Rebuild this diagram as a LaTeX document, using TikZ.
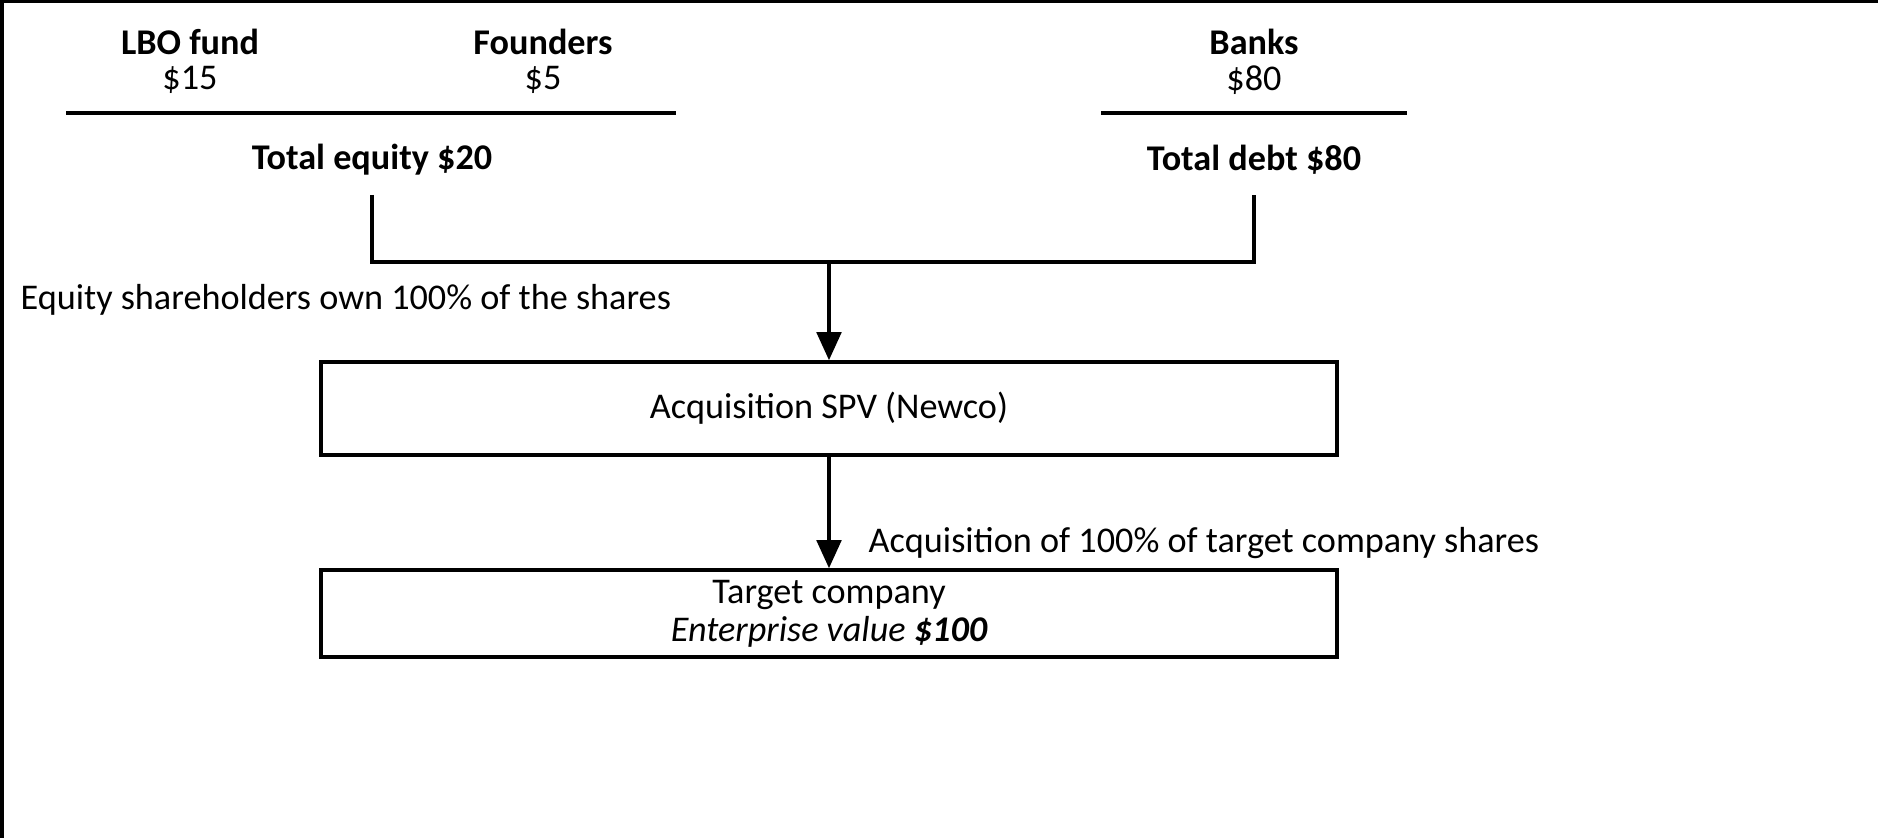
\documentclass[tikz,border=0pt]{standalone}
\usepackage{fontspec}
\setmainfont{Carlito}
\usetikzlibrary{arrows.meta,positioning}
\tikzset{
  lbl/.style={font=\fontsize{10.3}{12}\selectfont, inner sep=0pt},
  bold lbl/.style={lbl, font=\fontsize{10.3}{12}\selectfont\bfseries},
  box/.style={draw, line width=1pt, minimum width=10.16cm, inner sep=0pt},
  flow/.style={-{Triangle[length=8pt,width=7pt]}, line width=1pt},
}
\begin{document}
\begin{tikzpicture}
\useasboundingbox (0,0) rectangle (18.78,8.38);
\fill (0,8.35) rectangle (18.78,8.38);
\fill (0,0) rectangle (0.04,8.38);
% contributors
\node[bold lbl] (lbo) at (1.90,7.96) {LBO fund};
\node[lbl] (lbov) at (1.90,7.58) {\$15};
\node[bold lbl] (fnd) at (5.43,7.96) {Founders};
\node[lbl] (fndv) at (5.43,7.58) {\$5};
\node[bold lbl] (bnk) at (12.54,7.96) {Banks};
\node[lbl] (bnkv) at (12.54,7.58) {\$80};
\draw[line width=1pt] (0.66,7.25) -- (6.76,7.25);
\draw[line width=1pt] (11.01,7.25) -- (14.07,7.25);
% totals
\node[bold lbl] (eq) at (3.72,6.78) {Total equity \$20};
\node[bold lbl] (debt) at (12.54,6.78) {Total debt \$80};
% boxes
\node[box, minimum height=0.93cm] (spv) at (8.29,4.295) {\fontsize{10.3}{12}\selectfont Acquisition SPV (Newco)};
\node[box, minimum height=0.87cm, align=center, font=\fontsize{10.3}{10.8}\selectfont] (tgt) at (8.29,2.245)
  {Target company\\ \itshape Enterprise value \bfseries\$100};
% connectors
\coordinate (eqb) at (3.72,6.43);
\coordinate (debtb) at (12.54,6.43);
\coordinate (join) at (8.29,5.76);
\draw[line width=1pt] (eqb) |- (join) -| (debtb);
\draw[flow] (join) -- (spv.north);
\draw[flow] (spv.south) -- (tgt.north);
\node[lbl, anchor=west] (own) at (0.20,5.38) {Equity shareholders own 100\% of the shares};
\node[lbl, anchor=west] (acq) at (8.68,2.95) {Acquisition of 100\% of target company shares};
\end{tikzpicture}
\end{document}
